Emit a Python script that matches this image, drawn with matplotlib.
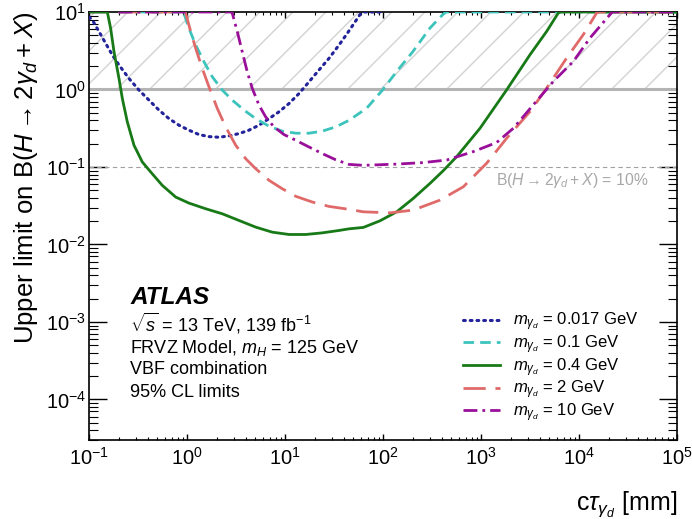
import numpy as np
import matplotlib
matplotlib.use("Agg")
import matplotlib.pyplot as plt
from matplotlib.transforms import blended_transform_factory
from matplotlib.ticker import LogLocator, NullFormatter

plt.rcParams['font.family'] = ['Liberation Sans', 'DejaVu Sans']
plt.rcParams['mathtext.fontset'] = 'custom'
plt.rcParams['mathtext.rm'] = 'Liberation Sans'
plt.rcParams['mathtext.it'] = 'Liberation Sans:italic'
plt.rcParams['mathtext.bf'] = 'Liberation Sans:bold'
plt.rcParams['mathtext.sf'] = 'Liberation Sans'

# ---- data ----
ctau_0017 = [0.1, 0.1081, 0.1265, 0.1479, 0.1729, 0.2023, 0.2559, 0.3236, 0.4093, 0.5176, 0.6548, 0.8284,
             1.047, 1.325, 1.675, 2.12, 2.68, 3.40, 4.29, 5.43, 6.87, 8.68, 10.99, 13.9, 17.6, 22.2, 28.1,
             35.6, 43.2, 58.2, 63, 100]
lim_0017 = [8.6, 7.91, 5.58, 3.94, 2.79, 2.07, 1.387, 0.982, 0.729, 0.542, 0.421, 0.346,
            0.2985, 0.262, 0.2466, 0.242, 0.252, 0.270, 0.2985, 0.346, 0.421, 0.515, 0.659, 0.887, 1.258, 1.782, 2.52,
            3.75, 5.30, 9.25, 10, 10]

ctau_01 = [0.2, 0.85, 0.931, 1.047, 1.227, 1.490, 1.811, 2.291, 2.90, 3.82, 5.02, 6.87, 9.38, 12.9, 17.6, 24.0,
           32.9, 45.0, 68.2, 100, 138, 202, 302, 407, 440, 1e5]
lim_01 = [10, 10, 9.62, 6.15, 3.75, 2.28, 1.459, 0.982, 0.729, 0.542, 0.421, 0.336, 0.290, 0.273, 0.273, 0.290,
          0.329, 0.40, 0.574, 1.0, 1.71, 3.09, 6.22, 9.25, 10, 10]

ctau_04 = [0.1, 0.1538, 0.1663, 0.1799, 0.2023, 0.2188, 0.2460, 0.2877, 0.3499, 0.4266, 0.5598, 0.7674, 1.047,
           1.552, 2.291, 3.396, 5.023, 7.413, 10.99, 16.26, 24.04, 35.56, 44.98, 63.0, 93.1, 138, 204, 302, 412,
           565, 977, 1828, 3162, 4677, 6150, 6500, 1e5]
lim_04 = [10, 10, 6.15, 3.08, 1.387, 0.766, 0.382, 0.191, 0.116, 0.0861, 0.0579, 0.0409, 0.0342,
          0.0289, 0.0249, 0.0204, 0.01675, 0.01442, 0.01346, 0.01346, 0.01413, 0.01517, 0.01592, 0.0166, 0.0202,
          0.0264, 0.0394, 0.0615, 0.0896, 0.136, 0.316, 0.99, 2.81, 5.62, 9.73, 10, 10]

ctau_2 = [0.2, 0.95, 0.970, 1.091, 1.227, 1.432, 1.675, 2.04, 2.48, 3.14, 3.97, 5.02, 6.87, 9.38, 12.9, 19.0,
          28.1, 45.0, 63, 118, 204, 382, 661, 1143, 1336, 1828, 3162, 4677, 7482, 11066, 15136, 16000, 1e5]
lim_2 = [10, 10, 9.62, 5.58, 3.39, 1.87, 1.084, 0.568, 0.329, 0.191, 0.128, 0.0951, 0.0673, 0.0524, 0.0418, 0.0353,
         0.0310, 0.0284, 0.0264, 0.0256, 0.0278, 0.0374, 0.0556, 0.112, 0.143, 0.235, 0.519, 1.04, 2.55, 5.11, 9.73, 10, 10]

ctau_10 = [0.2, 2.85, 2.90, 3.26, 3.66, 4.12, 4.64, 5.43, 6.35, 7.72, 9.77, 12.9, 17.6, 24.0, 32.9, 45.0, 63,
           138, 258, 447, 836, 1445, 2138, 3420, 5470, 8750, 12940, 20700, 22000, 1e5]
lim_10 = [10, 10, 9.62, 5.58, 3.08, 1.69, 1.03, 0.628, 0.443, 0.329, 0.262, 0.221, 0.181, 0.149, 0.124, 0.108, 0.105,
          0.109, 0.114, 0.123, 0.158, 0.207, 0.316, 0.634, 1.27, 2.30, 4.62, 9.25, 10, 10]

labels = [r'$m_{\gamma_d}$ = 0.017 GeV', r'$m_{\gamma_d}$ = 0.1 GeV', r'$m_{\gamma_d}$ = 0.4 GeV',
          r'$m_{\gamma_d}$ = 2 GeV', r'$m_{\gamma_d}$ = 10 GeV']

# ---- figure ----
fig = plt.figure(figsize=(6.92, 5.19), dpi=100)
ax = fig.add_axes([89/692, 1-440/519, (677-89)/692, (440-12)/519])
ax.set_xscale('log')
ax.set_yscale('log')
xmin, xmax = 1e-1, 1e5
ymin, ymax = 3e-5, 10
ax.set_xlim(xmin, xmax)
ax.set_ylim(ymin, ymax)

# excluded region hatch (B > 1)
trans = blended_transform_factory(ax.transAxes, ax.transData)
y1f = (np.log10(1) - np.log10(ymin)) / (np.log10(ymax) - np.log10(ymin))
h_px = (1 - y1f) * ax.bbox.height
dxf = h_px / ax.bbox.width
sp = 33 / ax.bbox.width
for a in np.arange(-dxf + 0.01, 1.0, sp):
    ax.plot([a, a + dxf], [1, 10], transform=trans, color='#d2d2d2', lw=1.0, zorder=1)
ax.axhline(1, color='#b4b4b4', lw=2.2, zorder=2)
ax.axhline(0.1, color='#a0a0a0', lw=0.8, ls=(0, (4, 3)), zorder=2)
ax.text(0.951, 0.066, r'B($H \rightarrow 2\gamma_d + X$) = 10%', transform=trans,
        ha='right', va='center', color='#a8a8a8', fontsize=11.3)

lw = 2.0
ax.plot(ctau_0017, lim_0017, color='#22229a', lw=2.2, ls=(0, (0.6, 1.6)), dash_capstyle='round', label=labels[0], zorder=5)
ax.plot(ctau_01, lim_01, color='#3cc4bc', lw=lw, ls=(0, (3.8, 2.2)), label=labels[1], zorder=5)
ax.plot(ctau_04, lim_04, color='#177a17', lw=lw, ls='-', label=labels[2], zorder=5)
ax.plot(ctau_2, lim_2, color='#e06a6a', lw=lw, ls=(0, (8, 3.5)), label=labels[3], zorder=5)
ax.plot(ctau_10, lim_10, color='#990f99', lw=lw, ls=(0, (5, 1.8, 1, 1.8)), label=labels[4], zorder=5)

# ticks
ax.tick_params(which='both', direction='in', top=True, right=True, labelsize=14.5)
ax.tick_params(axis='y', which='major', length=13, width=1, pad=2)
ax.tick_params(axis='y', which='minor', length=6.5, width=0.8)
ax.tick_params(axis='x', which='major', length=4.5, width=1, pad=5)
ax.tick_params(axis='x', which='minor', length=2.5, width=0.8)
ax.xaxis.set_major_locator(LogLocator(base=10, numticks=10))
ax.xaxis.set_minor_locator(LogLocator(base=10, subs=np.arange(2, 10), numticks=20))
ax.yaxis.set_major_locator(LogLocator(base=10, numticks=10))
ax.yaxis.set_minor_locator(LogLocator(base=10, subs=np.arange(2, 10), numticks=20))
ax.xaxis.set_minor_formatter(NullFormatter())
ax.yaxis.set_minor_formatter(NullFormatter())
for s in ax.spines.values():
    s.set_linewidth(1.2)

ax.set_ylabel(r'Upper limit on B($H \rightarrow 2\gamma_d + X$)', fontsize=18.5, loc='top', labelpad=4)
ax.set_xlabel(r'c$\tau_{\gamma_d}$ [mm]', fontsize=18, loc='right', labelpad=15)

# ATLAS text
tx = (130 - 89) / 588
ax.text(tx, 0.334, 'ATLAS', transform=ax.transAxes, fontsize=17.5, fontweight='bold', style='italic', va='center')
ax.text(tx, 0.273, r'$\sqrt{s}$ = 13 TeV, 139 fb$^{-1}$', transform=ax.transAxes, fontsize=13, va='center')
ax.text(tx, 0.215, r'FRVZ Model, $m_H$ = 125 GeV', transform=ax.transAxes, fontsize=13, va='center')
ax.text(tx, 0.164, 'VBF combination', transform=ax.transAxes, fontsize=13, va='center')
ax.text(tx, 0.112, '95% CL limits', transform=ax.transAxes, fontsize=13, va='center')

leg = ax.legend(loc='upper left', bbox_to_anchor=((463 - 89) / 588, 0.302), frameon=False,
                fontsize=12, handlelength=2.2, handletextpad=0.8, labelspacing=0.0,
                borderpad=0, borderaxespad=0)

fig.savefig('out.png', dpi=100)
